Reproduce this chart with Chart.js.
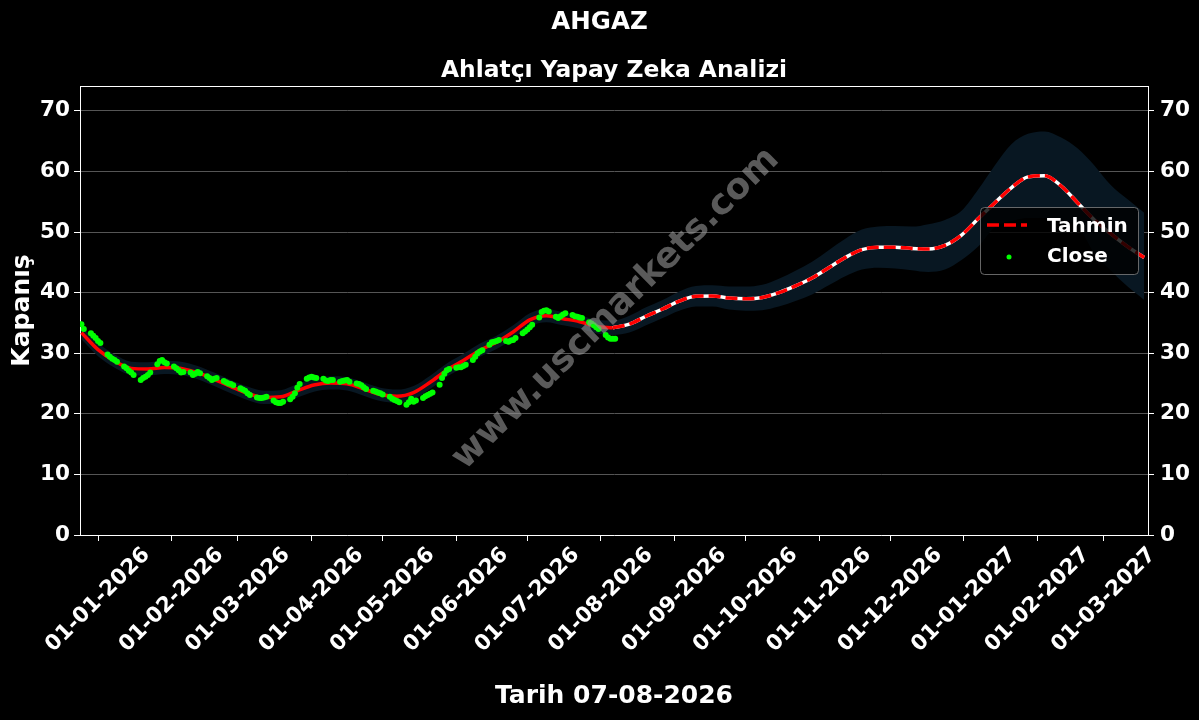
<!DOCTYPE html>
<html><head><meta charset="utf-8">
<script src="https://cdn.jsdelivr.net/npm/chart.js@4.4.1/dist/chart.umd.min.js"></script>
<style>html,body{margin:0;padding:0;background:#000;overflow:hidden}canvas{display:block}</style>
</head><body>
<canvas id="c" width="1199" height="720"></canvas>
<script>
// ---------------- DATA ----------------
const chartTitle = 'AHGAZ';
const chartSubtitle = 'Ahlatçı Yapay Zeka Analizi';
const yAxisTitle = 'Kapanış';
const xAxisTitle = 'Tarih 07-08-2026';

// Close: one value per trading day (Mon-Fri) starting 2025-12-25
const closeStart = '2025-12-25';
const closeValues = [
  34.8, 34.0,
  33.3, 32.9, 32.5, 32.0, 31.7,
  29.8, 29.4, 29.1, 28.9, 28.6,
  27.8, 27.5, 27.1, 26.8, 26.4,
  25.6, 25.9, 26.1, 26.4, 26.8,
  28.2, 28.7, 28.9, 28.5, 28.3,
  27.8, 27.5, 27.2, 26.8, 26.9,
  26.8, 26.4, 26.6, 26.9, 26.7,
  26.2, 25.9, 25.6, 25.8, 25.9,
  25.4, 25.2, 25.0, 24.9, 24.7,
  24.2, 24.0, 23.8, 23.4, 23.1,
  22.7, 22.6, 22.6, 22.7, 22.8,
  22.2, 21.9, 21.8, 21.8, 22.0,
  22.4, 22.8, 23.4, 24.3, 24.9,
  25.8, 26.0, 26.1, 26.0, 25.9,
  25.8, 25.5, 25.4, 25.6, 25.6,
  25.3, 25.4, 25.5, 25.6, 25.3,
  25.0, 24.9, 24.7, 24.4, 24.1,
  23.8, 23.7, 23.5, 23.4, 23.2,
  22.8, 22.5, 22.3, 22.1, 21.9,
  21.5, 21.9, 22.5, 22.0, 22.2,
  22.6, 22.9, 23.1, 23.3, 23.5,
  24.8, 25.9, 26.6, 27.2, 27.4,
  27.6, 27.7, 27.7, 27.9, 28.1,
  28.9, 29.4, 30.0, 30.3, 30.5,
  31.4, 31.8, 31.9, 32.0, 32.2,
  32.0, 31.9, 32.1, 32.2, 32.5,
  33.3, 33.6, 33.9, 34.3, 34.7,
  35.9, 36.8, 37.0, 37.1, 36.9,
  36.0, 35.8, 36.1, 36.4, 36.6,
  36.3, 36.1, 36.0, 35.9, 35.8,
  35.1, 34.9, 34.6, 34.3, 34.0,
  33.0, 32.6, 32.4, 32.4, 32.4
];

// Tahmin (model line): weekly values starting 2025-12-25
const tahminStart = '2025-12-25';
const tahminStepDays = 7;
const forecastStartIndex = 32; // 2026-08-06
const tahminValues = [
  33.4, 30.6, 28.7, 27.5, 27.4, 27.65, 27.5, 26.8, 25.7, 24.5,
  23.4, 22.7, 22.8, 23.8, 24.75, 25.1, 24.95, 24.1, 23.2, 22.9,
  23.5, 25.2, 27.2, 28.8, 30.5, 31.8, 33.5, 35.5, 36.2, 35.7,
  35.2, 34.4, 34.2, 34.8, 36.1, 37.3, 38.6, 39.4, 39.45, 39.1,
  39.0, 39.2, 40.0, 41.1, 42.4, 44.1, 45.8, 47.1, 47.5, 47.5,
  47.3, 47.2, 47.8, 49.5, 52.2, 54.8, 57.3, 59.1, 59.3, 57.6,
  54.8, 52.0, 49.7, 47.6, 45.8
];
const bandUpper = [
  34.5, 31.7, 29.8, 28.6, 28.5, 28.75, 28.6, 27.9, 26.8, 25.6,
  24.5, 23.8, 23.9, 24.9, 25.85, 26.2, 26.05, 25.2, 24.3, 24.0,
  24.6, 26.3, 28.3, 29.9, 31.6, 32.9, 34.6, 36.6, 37.3, 36.8,
  36.3, 35.5, 35.4, 36.2, 37.6, 38.8, 40.2, 41.1, 41.2, 41.0,
  41.0, 41.3, 42.3, 43.6, 45.1, 47.0, 48.9, 50.4, 50.9, 51.0,
  50.9, 51.3, 52.0, 53.5, 57.0, 61.0, 64.5, 66.2, 66.6, 65.6,
  63.8, 61.0, 57.7, 55.4, 53.2
];
const bandLower = [
  32.3, 29.5, 27.6, 26.4, 26.3, 26.55, 26.4, 25.7, 24.6, 23.4,
  22.3, 21.6, 21.7, 22.7, 23.65, 24.0, 23.85, 23.0, 22.1, 21.8,
  22.4, 24.1, 26.1, 27.7, 29.4, 30.7, 32.4, 34.4, 35.1, 34.6,
  34.1, 33.3, 33.0, 33.4, 34.6, 35.8, 37.0, 37.7, 37.7, 37.2,
  37.0, 37.1, 37.7, 38.6, 39.7, 41.2, 42.7, 43.8, 44.1, 44.0,
  43.7, 43.4, 43.8, 45.4, 47.6, 50.8, 51.8, 52.3, 52.3, 52.0,
  51.0, 46.5, 43.6, 41.0, 38.8
];

const xTickDates = ['2026-01-01','2026-02-01','2026-03-01','2026-04-01','2026-05-01','2026-06-01','2026-07-01',
  '2026-08-01','2026-09-01','2026-10-01','2026-11-01','2026-12-01','2027-01-01','2027-02-01','2027-03-01'];
const xTickLabels = ['01-01-2026','01-02-2026','01-03-2026','01-04-2026','01-05-2026','01-06-2026','01-07-2026',
  '01-08-2026','01-09-2026','01-10-2026','01-11-2026','01-12-2026','01-01-2027','01-02-2027','01-03-2027'];
const yTickValues = [0, 10, 20, 30, 40, 50, 60, 70];
const xRange = ['2025-12-24T09:36:00Z', '2027-03-19T14:24:00Z'];
const yRange = [0, 74.1];

// ---------------- BUILD ----------------
const DAY = 86400000;
const FONT = "'DejaVu Sans', sans-serif";
const toMs = s => Date.parse(s.length === 10 ? s + 'T00:00:00Z' : s);

const closeDates = [];
{ let t = toMs(closeStart);
  while (closeDates.length < closeValues.length) {
    const wd = new Date(t).getUTCDay();
    if (wd !== 0 && wd !== 6) closeDates.push(t);
    t += DAY;
  } }
const tahminDates = tahminValues.map((_, i) => toMs(tahminStart) + i * tahminStepDays * DAY);
const pts = (xs, ys) => ys.map((y, i) => ({x: xs[i], y}));
const tahminPts = pts(tahminDates, tahminValues);
const fitPts = tahminPts.slice(0, forecastStartIndex + 1);
const fcPts = tahminPts.slice(forecastStartIndex);

const BAND = '#081722';
const RED = '#ff0000';
const GREEN = '#00ff00';
const TICK_FONT = {family: FONT, size: 21.5, weight: 'bold'};

const overlay = {
  id: 'overlay',
  afterDatasetsDraw(chart) {
    const ctx = chart.ctx;
    ctx.save();
    ctx.translate(616, 309);
    ctx.rotate(-44.5 * Math.PI / 180);
    ctx.font = `bold 36px ${FONT}`;
    ctx.fillStyle = 'rgba(150,150,150,0.6)';
    ctx.textAlign = 'center';
    ctx.textBaseline = 'middle';
    ctx.fillText('www.uscmarkets.com', 0, 0);
    ctx.restore();
  },
  afterDraw(chart) {
    const ctx = chart.ctx, ca = chart.chartArea;
    ctx.save();
    // top spine
    ctx.strokeStyle = '#fff'; ctx.lineWidth = 1;
    ctx.beginPath(); ctx.moveTo(ca.left, ca.top + 0.5); ctx.lineTo(ca.right, ca.top + 0.5); ctx.stroke();
    // titles
    ctx.fillStyle = '#fff'; ctx.textAlign = 'center'; ctx.textBaseline = 'alphabetic';
    ctx.font = `bold 24.5px ${FONT}`;
    ctx.fillText(chartTitle, chart.width / 2, 29);
    ctx.font = `bold 23.4px ${FONT}`;
    ctx.fillText(chartSubtitle, (ca.left + ca.right) / 2, 77);
    // x tick labels
    const xs = chart.scales.x;
    ctx.font = `bold 21.5px ${FONT}`;
    ctx.textBaseline = 'middle';
    xTickDates.forEach((d, i) => {
      const px = xs.getPixelForValue(toMs(d));
      ctx.save(); ctx.translate(px, 600); ctx.rotate(-Math.PI / 4);
      ctx.fillText(xTickLabels[i], 0, 0); ctx.restore();
    });
    // legend
    const bx = 980.5, by = 207.5, bw = 158, bh = 67, r = 4;
    ctx.beginPath();
    ctx.moveTo(bx + r, by); ctx.lineTo(bx + bw - r, by); ctx.quadraticCurveTo(bx + bw, by, bx + bw, by + r);
    ctx.lineTo(bx + bw, by + bh - r); ctx.quadraticCurveTo(bx + bw, by + bh, bx + bw - r, by + bh);
    ctx.lineTo(bx + r, by + bh); ctx.quadraticCurveTo(bx, by + bh, bx, by + bh - r);
    ctx.lineTo(bx, by + r); ctx.quadraticCurveTo(bx, by, bx + r, by); ctx.closePath();
    ctx.fillStyle = 'rgba(0,0,0,0.8)'; ctx.fill();
    ctx.strokeStyle = 'rgba(128,128,128,0.8)'; ctx.lineWidth = 1; ctx.stroke();
    ctx.strokeStyle = RED; ctx.lineWidth = 3.5; ctx.setLineDash([12, 5]);
    ctx.beginPath(); ctx.moveTo(987, 225); ctx.lineTo(1027, 225); ctx.stroke();
    ctx.setLineDash([]);
    ctx.fillStyle = GREEN; ctx.beginPath(); ctx.arc(1009, 257, 2.5, 0, Math.PI * 2); ctx.fill();
    ctx.fillStyle = '#fff'; ctx.textAlign = 'left'; ctx.textBaseline = 'alphabetic';
    ctx.font = `bold 20px ${FONT}`;
    ctx.fillText('Tahmin', 1047, 232);
    ctx.fillText('Close', 1047, 262);
    ctx.restore();
  }
};

const yTicksFn = s => { s.ticks = yTickValues.map(v => ({value: v})); };
const yCommon = {
  type: 'linear', min: yRange[0], max: yRange[1],
  afterBuildTicks: yTicksFn,
  border: {display: true, color: '#fff', width: 1},
  ticks: {color: '#fff', font: TICK_FONT, callback: v => String(v)}
};

new Chart(document.getElementById('c'), {
  type: 'line',
  data: {
    datasets: [
      {label: 'bandUpper', data: pts(tahminDates, bandUpper), borderWidth: 0, pointRadius: 0, fill: '+1',
       backgroundColor: BAND, borderColor: 'transparent', cubicInterpolationMode: 'monotone', order: 10},
      {label: 'bandLower', data: pts(tahminDates, bandLower), borderWidth: 0, pointRadius: 0, fill: false,
       borderColor: 'transparent', cubicInterpolationMode: 'monotone', order: 9},
      {label: 'fit', data: fitPts, borderColor: RED, borderWidth: 3.5, pointRadius: 0, fill: false,
       cubicInterpolationMode: 'monotone', order: 4},
      {label: 'fcWhite', data: fcPts, borderColor: '#ffffff', borderWidth: 3.5, pointRadius: 0, fill: false,
       cubicInterpolationMode: 'monotone', order: 3},
      {label: 'Tahmin', data: fcPts, borderColor: RED, borderWidth: 3.5, borderDash: [12, 5], pointRadius: 0, fill: false,
       cubicInterpolationMode: 'monotone', order: 2},
      {label: 'Close', data: pts(closeDates, closeValues), showLine: false, pointRadius: 3, pointBorderWidth: 0,
       pointBackgroundColor: GREEN, backgroundColor: GREEN, borderColor: GREEN, order: 1}
    ]
  },
  options: {
    responsive: false, animation: false, devicePixelRatio: 1, events: [],
    layout: {padding: {top: 86, left: 0, right: 0, bottom: 0}},
    plugins: {legend: {display: false}, tooltip: {enabled: false}, title: {display: false}},
    scales: {
      x: {
        type: 'linear', position: 'bottom', min: toMs(xRange[0]), max: toMs(xRange[1]),
        afterBuildTicks: s => { s.ticks = xTickDates.map(d => ({value: toMs(d)})); },
        afterFit: s => { s.height = 185; },
        grid: {drawOnChartArea: false, drawTicks: true, tickLength: 6, tickColor: '#fff', color: '#fff'},
        border: {display: true, color: '#fff', width: 1},
        ticks: {display: false},
        title: {display: true, text: xAxisTitle, color: '#fff', font: {family: FONT, size: 25, weight: 'bold'},
                padding: {top: 0, bottom: 9}}
      },
      y: Object.assign({}, yCommon, {
        position: 'left',
        afterFit: s => { s.width = 80; },
        grid: {color: '#555555', lineWidth: 1, tickLength: 6, tickColor: '#fff', drawTicks: true},
        ticks: Object.assign({}, yCommon.ticks, {padding: 4}),
        title: {display: true, text: yAxisTitle, color: '#fff', font: {family: FONT, size: 25, weight: 'bold'},
                padding: {top: 7, bottom: 0}}
      }),
      y2: Object.assign({}, yCommon, {
        position: 'right',
        afterFit: s => { s.width = 51; },
        grid: {drawOnChartArea: false, tickLength: 6, tickColor: '#fff', drawTicks: true},
        ticks: Object.assign({}, yCommon.ticks, {padding: 6})
      })
    }
  },
  plugins: [overlay]
});
</script>
</body></html>
